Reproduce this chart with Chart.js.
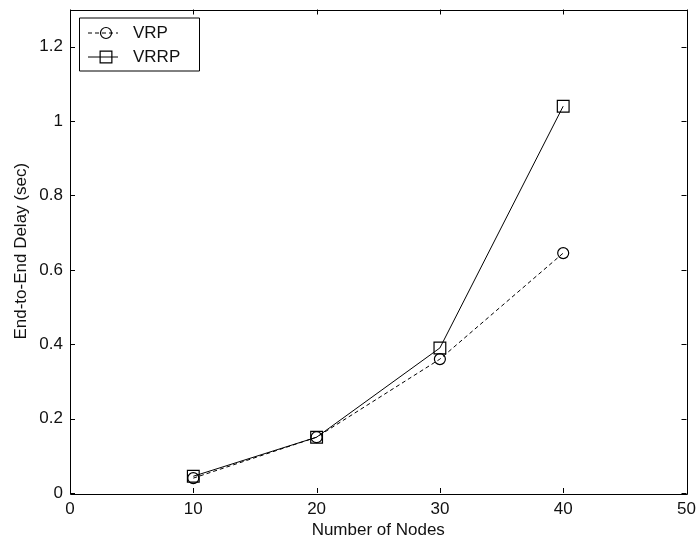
<!DOCTYPE html>
<html>
<head>
<meta charset="utf-8">
<script src="https://cdn.jsdelivr.net/npm/chart.js@4/dist/chart.umd.min.js"></script>
<style>
html,body{margin:0;padding:0;background:#fff;}
#wrap{width:696px;height:544px;position:relative;}
</style>
</head>
<body>
<div id="wrap"><canvas id="c" width="696" height="544"></canvas></div>
<script>
const nodes = [10, 20, 30, 40];
const vrpDelay = [0.04, 0.15, 0.36, 0.645];
const vrrpDelay = [0.045, 0.15, 0.39, 1.04];
const xTicks = [0, 10, 20, 30, 40, 50];
const yTicks = [0, 0.2, 0.4, 0.6, 0.8, 1, 1.2];
const seriesNames = ['VRP', 'VRRP'];
const xTitle = 'Number of Nodes';
const yTitle = 'End-to-End Delay (sec)';

const FONT = 'Liberation Sans, Arial, sans-serif';
const TXT = '#111';

const frame = {
  id: 'frame',
  afterDatasetsDraw(chart) {
    const {ctx, chartArea: a, scales} = chart;
    ctx.save();
    ctx.strokeStyle = '#000';
    ctx.lineWidth = 1;
    ctx.beginPath();
    ctx.rect(Math.round(a.left) + 0.5, Math.round(a.top) + 0.5, Math.round(a.right - a.left), Math.round(a.bottom - a.top));
    ctx.stroke();
    const tl = 5;
    ctx.beginPath();
    xTicks.forEach(v => {
      const x = Math.round(scales.x.getPixelForValue(v)) + 0.5;
      ctx.moveTo(x, a.bottom); ctx.lineTo(x, a.bottom - tl);
      ctx.moveTo(x, a.top); ctx.lineTo(x, a.top + tl);
    });
    yTicks.forEach(v => {
      const y = Math.round(scales.y.getPixelForValue(v)) + 0.5;
      ctx.moveTo(a.left, y); ctx.lineTo(a.left + tl, y);
      ctx.moveTo(a.right, y); ctx.lineTo(a.right - tl, y);
    });
    ctx.stroke();

    // legend
    const lx = a.left + 9, ly = a.top + 8, lw = 120, lh = 53;
    ctx.fillStyle = '#fff';
    ctx.fillRect(lx, ly, lw, lh);
    ctx.beginPath();
    ctx.rect(lx + 0.5, ly + 0.5, lw, lh);
    ctx.stroke();
    chart.data.datasets.forEach((ds, i) => {
      const cy = ly + 15 + i * 24;
      ctx.save();
      ctx.strokeStyle = ds.borderColor;
      ctx.fillStyle = 'rgba(0,0,0,0)';
      ctx.lineWidth = 1;
      ctx.setLineDash(ds.borderDash || []);
      ctx.beginPath();
      ctx.moveTo(lx + 9, cy + 0.5); ctx.lineTo(lx + 39, cy + 0.5);
      ctx.stroke();
      ctx.setLineDash([]);
      ctx.lineWidth = 1.2;
      Chart.helpers.drawPoint(ctx, {pointStyle: ds.pointStyle, radius: ds.pointRadius, borderWidth: 1.2, rotation: 0}, lx + 27, cy + 0.5);
      ctx.restore();
      ctx.fillStyle = TXT;
      ctx.font = '17px ' + FONT;
      ctx.textBaseline = 'middle';
      ctx.textAlign = 'left';
      ctx.fillText(ds.label, lx + 54, cy + 1);
    });
    ctx.restore();
  }
};

new Chart(document.getElementById('c'), {
  type: 'line',
  data: {
    datasets: [
      {
        label: seriesNames[0],
        data: nodes.map((n, i) => ({x: n, y: vrpDelay[i]})),
        borderColor: '#000', backgroundColor: 'rgba(0,0,0,0)',
        borderWidth: 1, borderDash: [4, 3],
        pointStyle: 'circle', pointRadius: 5.5, pointBorderWidth: 1.2,
        pointBackgroundColor: 'rgba(0,0,0,0)', pointBorderColor: '#000',
        tension: 0
      },
      {
        label: seriesNames[1],
        data: nodes.map((n, i) => ({x: n, y: vrrpDelay[i]})),
        borderColor: '#000', backgroundColor: 'rgba(0,0,0,0)',
        borderWidth: 1,
        pointStyle: 'rect', pointRadius: 8.3, pointBorderWidth: 1.2,
        pointBackgroundColor: 'rgba(0,0,0,0)', pointBorderColor: '#000',
        tension: 0
      }
    ]
  },
  options: {
    responsive: false,
    animation: false,
    devicePixelRatio: 1,
    layout: {padding: {left: 0, top: 9, right: 9, bottom: 0}},
    plugins: {legend: {display: false}, tooltip: {enabled: false}},
    scales: {
      x: {
        type: 'linear', min: 0, max: 50,
        afterBuildTicks: s => { s.ticks = xTicks.map(v => ({value: v})); },
        afterFit: s => { s.height = 51; s.paddingLeft = 0; s.paddingRight = 0; },
        grid: {display: false, drawTicks: false},
        border: {display: false},
        ticks: {color: TXT, font: {family: FONT, size: 17}, padding: 6, maxRotation: 0, autoSkip: false},
        title: {display: true, text: xTitle, color: TXT, font: {family: FONT, size: 17}, padding: {top: 0, bottom: 3}}
      },
      y: {
        type: 'linear', min: 0, max: 1.3,
        afterBuildTicks: s => { s.ticks = yTicks.map(v => ({value: v})); },
        afterFit: s => { s.width = 70; s.paddingTop = 0; s.paddingBottom = 0; },
        grid: {display: false, drawTicks: false},
        border: {display: false},
        ticks: {color: TXT, font: {family: FONT, size: 17}, padding: 7, autoSkip: false,
          callback: v => String(v)},
        title: {display: true, text: yTitle, color: TXT, font: {family: FONT, size: 17}, padding: {top: 11, bottom: 0}}
      }
    }
  },
  plugins: [frame]
});
</script>
</body>
</html>
